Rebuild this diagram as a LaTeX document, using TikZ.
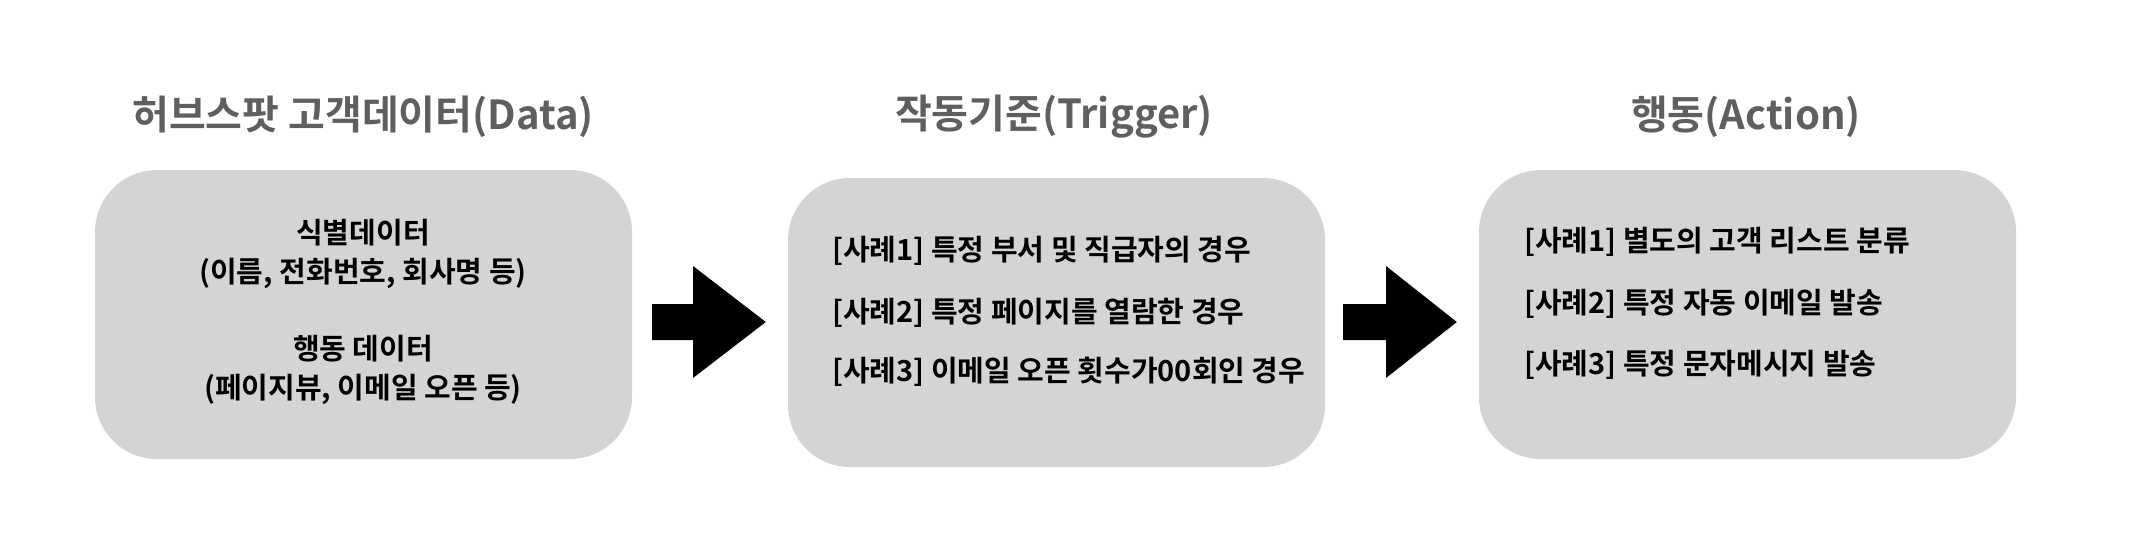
\documentclass[tikz,border=0pt]{standalone}
\usepackage{fontspec}
\setmainfont{Noto Sans CJK KR}[BoldFont={Noto Sans CJK KR Bold}]
\usetikzlibrary{calc}
\definecolor{boxgray}{HTML}{D4D4D4}
\definecolor{titlegray}{HTML}{5F5F5F}
\tikzset{
  panel/.style={fill=boxgray, draw=none, rounded corners=62pt, minimum width=537pt, minimum height=289pt, inner sep=0pt},
  ttl/.style={font=\bfseries\fontsize{40}{44}\selectfont, text=titlegray, inner sep=0pt},
  body/.style={font=\bfseries\fontsize{29}{33}\selectfont, text=black, inner sep=0pt},
  blockarrow/.style={fill=black, draw=none}
}
\begin{document}
\begin{tikzpicture}[x=1pt,y=-1pt]
\useasboundingbox (0,0) rectangle (2130,542);
% panels
\node[panel] (b1) at (363.5,314.5) {};
\node[panel] (b2) at (1056.5,322.5) {};
\node[panel] (b3) at (1747.5,314.5) {};
% titles
\node[ttl] (t1) at (363,117) {허브스팟 고객데이터(Data)};
\node[ttl] (t2) at (1054,117) {작동기준(Trigger)};
\node[ttl] (t3) at (1746,117) {행동(Action)};
% box 1 text
\node[body] (d1) at (363,233) {식별데이터};
\node[body] (d2) at (363,273) {(이름, 전화번호, 회사명 등)};
\node[body] (d3) at (363,349) {행동 데이터};
\node[body] (d4) at (363,389) {(페이지뷰, 이메일 오픈 등)};
% box 2 text
\node[body, anchor=west] (g1) at (832,251) {[사례1] 특정 부서 및 직급자의 경우};
\node[body, anchor=west] (g2) at (832,313) {[사례2] 특정 페이지를 열람한 경우};
\node[body, anchor=west] (g3) at (832,372) {[사례3] 이메일 오픈 횟수가00회인 경우};
% box 3 text
\node[body, anchor=west] (a1) at (1524,242) {[사례1] 별도의 고객 리스트 분류};
\node[body, anchor=west] (a2) at (1524,304) {[사례2] 특정 자동 이메일 발송};
\node[body, anchor=west] (a3) at (1524,365) {[사례3] 특정 문자메시지 발송};
% arrows
\coordinate (s1) at ($(b1.east)+(20,0)$);
\coordinate (e1) at ($(b2.west)+(-22,0)$);
\fill[blockarrow] (s1 |- 0,304) -- (693,304) -- (693,266) -- (e1 |- 0,322) -- (693,378) -- (693,340) -- (s1 |- 0,340) -- cycle;
\coordinate (s2) at ($(b2.east)+(18,0)$);
\coordinate (e2) at ($(b3.west)+(-22,0)$);
\fill[blockarrow] (s2 |- 0,304) -- (1386,304) -- (1386,266) -- (e2 |- 0,322) -- (1386,378) -- (1386,340) -- (s2 |- 0,340) -- cycle;
\end{tikzpicture}
\end{document}
